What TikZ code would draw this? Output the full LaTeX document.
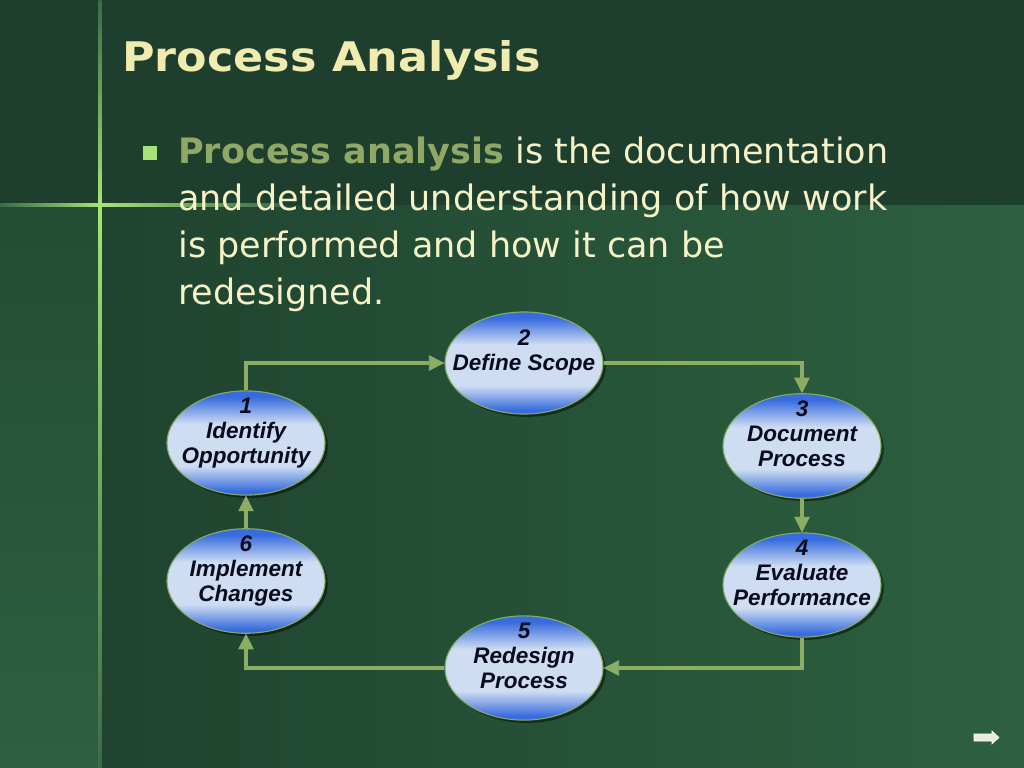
\documentclass[tikz,border=0pt]{standalone}
\usepackage{fontspec}
\setmainfont{Liberation Sans}
\newfontfamily\titlefont[FakeStretch=1.09]{DejaVu Sans}
\newfontfamily\bodyfont{DejaVu Sans}
\usetikzlibrary{shapes.geometric,arrows.meta,shadows}
\definecolor{bandgreen}{RGB}{30,62,46}
\definecolor{darkgreen}{RGB}{31,67,47}
\definecolor{basegreen}{RGB}{45,96,64}
\definecolor{stripgreen}{RGB}{36,76,53}
\definecolor{linebright}{RGB}{165,230,115}
\definecolor{linedim}{RGB}{60,105,72}
\definecolor{creamtext}{RGB}{245,242,200}
\definecolor{titlecream}{RGB}{240,236,176}
\definecolor{olivetext}{RGB}{143,168,101}
\definecolor{bulletgreen}{RGB}{168,224,122}
\definecolor{flowgreen}{RGB}{140,174,100}
\definecolor{rimgreen}{RGB}{130,170,100}
\definecolor{ovalblue}{RGB}{56,108,222}
\definecolor{ovallight}{RGB}{206,221,242}
\definecolor{ovaltext}{RGB}{10,12,30}
\definecolor{nextwhite}{RGB}{232,236,222}
\pgfdeclareverticalshading{ovalshade}{100bp}{color(0bp)=(ovalblue); color(27bp)=(ovalblue); color(39bp)=(ovallight); color(59bp)=(ovallight); color(72bp)=(ovalblue); color(100bp)=(ovalblue)}
\begin{document}
\begin{tikzpicture}[x=0.025cm, y=-0.025cm,
  stage node/.style={ellipse, draw=rimgreen, line width=0.8pt, shading=ovalshade,
    minimum width=3.95cm, minimum height=2.55cm, inner xsep=-12pt, inner ysep=-6pt, align=center,
    text=ovaltext, font=\fontsize{16pt}{17.8pt}\selectfont\bfseries\itshape,
    drop shadow={shadow xshift=2pt, shadow yshift=-2pt, fill=black, opacity=0.45}},
  flow/.style={draw, color=flowgreen, line width=2.6pt,
    -{Triangle[length=11pt,width=11pt,fill=flowgreen,line width=0.5pt]}},
  vh/.style={to path={|- (\tikztotarget)}},
  hv/.style={to path={-| (\tikztotarget)}}]
\useasboundingbox (0,0) rectangle (1024,768);
% background
\fill[basegreen] (0,0) rectangle (1024,768);
\fill[bandgreen] (0,0) rectangle (1024,205);
\shade[left color=darkgreen, right color=basegreen] (100,205) rectangle (1024,768);
\shade[top color=stripgreen, bottom color=basegreen] (0,205) rectangle (100,768);
\shade[top color=linedim, bottom color=linebright] (98.5,0) rectangle (101.5,205);
\shade[top color=linebright, bottom color=linedim] (98.5,205) rectangle (101.5,768);
\shade[left color=linedim, right color=linebright] (0,203.5) rectangle (100,206.5);
\shade[left color=linebright, right color=linedim] (100,203.5) rectangle (280,206.5);
% texts
\node[anchor=base west, inner sep=0pt, text=titlecream, font=\titlefont\bfseries\fontsize{29pt}{34pt}\selectfont] (title) at (122,72) {Process Analysis};
\fill[bulletgreen] (143,146) rectangle (157,160);
\begin{scope}[every node/.style={anchor=base west, inner sep=0pt, text=creamtext, font=\bodyfont\fontsize{24.9pt}{30pt}\selectfont}]
\node (line1) at (178,163) {\textcolor{olivetext}{\bfseries Process analysis} is the documentation};
\node (line2) at (178,210) {and detailed understanding of how work};
\node (line3) at (178,257) {is performed and how it can be};
\node (line4) at (178,304) {redesigned.};
\end{scope}
% cycle
\node [stage node](s1) at (246,443) {1\\Identify\\Opportunity\\\mbox{}};
\node [stage node](s2) at (524,363) {2\\Define Scope\\\mbox{}};
\node [stage node](s3) at (802,446) {3\\Document\\Process\\\mbox{}};
\node [stage node](s4) at (802,585) {4\\Evaluate\\Performance\\\mbox{}};
\node [stage node](s5) at (524,668) {5\\Redesign\\Process\\\mbox{}};
\node [stage node](s6) at (246,581) {6\\Implement\\Changes\\\mbox{}};
\path [flow]
	(s1) edge [vh] (s2)
	(s2) edge [hv] (s3)
	(s3) edge (s4)
	(s4) edge [vh] (s5)
	(s5) edge [hv] (s6)
	(s6) edge (s1)
	;
% next-slide arrow
\filldraw[fill=nextwhite, draw=white, line width=0.4pt]
  (974,734) -- (992,734) -- (992,731) -- (999,737.5) -- (992,744) -- (992,741) -- (974,741) -- cycle;
\end{tikzpicture}
\end{document}
